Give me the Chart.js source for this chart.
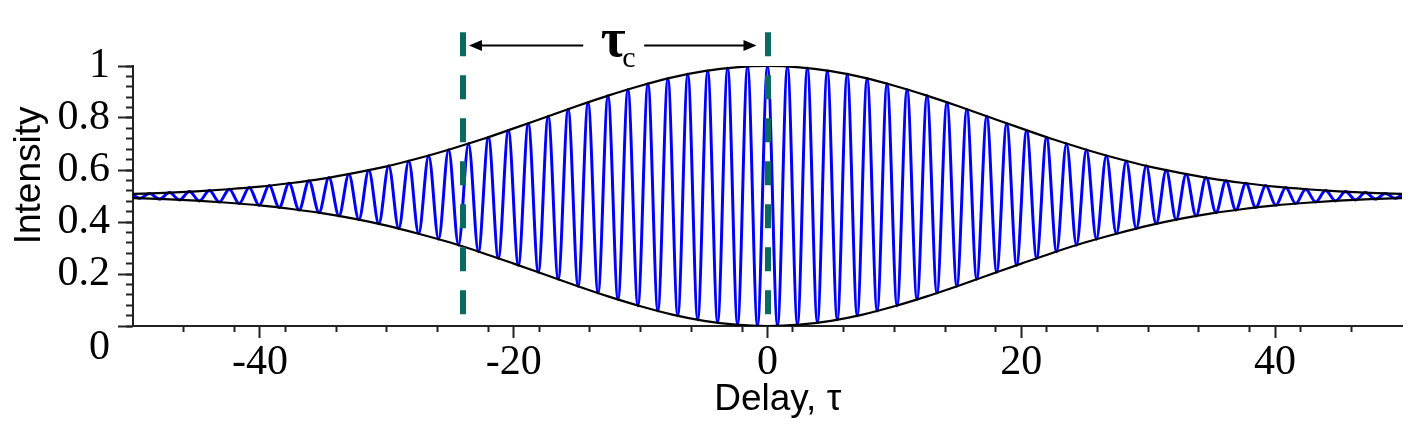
<!DOCTYPE html>
<html>
<head>
<meta charset="utf-8">
<script src="https://cdn.jsdelivr.net/npm/chart.js@4.4.1/dist/chart.umd.min.js"></script>
<style>
  body { margin: 0; background: #fff; }
  canvas { display: block; }
</style>
</head>
<body>
<canvas id="chart" width="1421" height="447"></canvas>
<script>
// fringe extrema (delay, intensity), plus the two end points
const fringeX = [
  -50, -49.48, -48.69, -47.91, -47.12, -46.34, -45.55, -44.77, -43.98, -43.20, -42.41,
  -41.63, -40.84, -40.06, -39.27, -38.48, -37.70, -36.91, -36.13, -35.34, -34.56,
  -33.77, -32.99, -32.20, -31.42, -30.63, -29.85, -29.06, -28.27, -27.49, -26.70,
  -25.92, -25.13, -24.35, -23.56, -22.78, -21.99, -21.21, -20.42, -19.63, -18.85,
  -18.06, -17.28, -16.49, -15.71, -14.92, -14.14, -13.35, -12.57, -11.78, -11.00,
  -10.21, -9.42, -8.64, -7.85, -7.07, -6.28, -5.50, -4.71, -3.93, -3.14,
  -2.36, -1.57, -0.79, 0,
  0.79, 1.57, 2.36, 3.14, 3.93, 4.71, 5.50, 6.28, 7.07, 7.85,
  8.64, 9.42, 10.21, 11.00, 11.78, 12.57, 13.35, 14.14, 14.92, 15.71,
  16.49, 17.28, 18.06, 18.85, 19.63, 20.42, 21.21, 21.99, 22.78, 23.56,
  24.35, 25.13, 25.92, 26.70, 27.49, 28.27, 29.06, 29.85, 30.63, 31.42,
  32.20, 32.99, 33.77, 34.56, 35.34, 36.13, 36.91, 37.70, 38.48, 39.27,
  40.06, 40.84, 41.63, 42.41, 43.20, 43.98, 44.77, 45.55, 46.34, 47.12,
  47.91, 48.69, 49.48, 50
];
const fringeY = [
  0.504, 0.491, 0.510, 0.488, 0.513, 0.485, 0.517, 0.481, 0.521, 0.477, 0.526,
  0.471, 0.533, 0.464, 0.540, 0.456, 0.549, 0.446, 0.559, 0.436, 0.571,
  0.423, 0.584, 0.409, 0.599, 0.393, 0.616, 0.375, 0.635, 0.355, 0.655,
  0.334, 0.678, 0.311, 0.701, 0.286, 0.726, 0.261, 0.752, 0.234, 0.779,
  0.207, 0.807, 0.180, 0.834, 0.153, 0.860, 0.127, 0.886, 0.102, 0.910,
  0.078, 0.932, 0.058, 0.952, 0.039, 0.969, 0.024, 0.982, 0.013, 0.992,
  0.005, 0.998, 0.001, 1.000,
  0.001, 0.998, 0.005, 0.992, 0.013, 0.982, 0.024, 0.969, 0.039, 0.952,
  0.058, 0.932, 0.078, 0.910, 0.102, 0.886, 0.127, 0.860, 0.153, 0.834,
  0.180, 0.807, 0.207, 0.779, 0.234, 0.752, 0.261, 0.726, 0.286, 0.701,
  0.311, 0.678, 0.334, 0.655, 0.355, 0.635, 0.375, 0.616, 0.393, 0.599,
  0.409, 0.584, 0.423, 0.571, 0.436, 0.559, 0.446, 0.549, 0.456, 0.540,
  0.464, 0.533, 0.471, 0.526, 0.477, 0.521, 0.481, 0.517, 0.485, 0.513,
  0.488, 0.510, 0.491, 0.504
];

// envelope (black curves)
const envX = [
  -50, -47.5, -45, -42.5, -40, -37.5, -35, -32.5, -30, -27.5, -25, -22.5, -20, -17.5, -15, -12.5, -10, -7.5, -5, -2.5,
  0, 2.5, 5, 7.5, 10, 12.5, 15, 17.5, 20, 22.5, 25, 27.5, 30, 32.5, 35, 37.5, 40, 42.5, 45, 47.5, 50
];
const envUpper = [
  0.508, 0.512, 0.518, 0.526, 0.536, 0.550, 0.567, 0.589, 0.614, 0.645, 0.680, 0.718, 0.760, 0.803, 0.846, 0.887, 0.924, 0.956, 0.980, 0.995,
  1.000, 0.995, 0.980, 0.956, 0.924, 0.887, 0.846, 0.803, 0.760, 0.718, 0.680, 0.645, 0.614, 0.589, 0.567, 0.550, 0.536, 0.526, 0.518, 0.512, 0.508
];
const envLower = [
  0.492, 0.488, 0.482, 0.474, 0.464, 0.450, 0.433, 0.412, 0.386, 0.355, 0.321, 0.282, 0.240, 0.197, 0.154, 0.113, 0.076, 0.044, 0.020, 0.005,
  0.000, 0.005, 0.020, 0.044, 0.076, 0.113, 0.154, 0.197, 0.240, 0.282, 0.321, 0.355, 0.386, 0.412, 0.433, 0.450, 0.464, 0.474, 0.482, 0.488, 0.492
];

// axes
const xMajorTicks = [-40, -20, 0, 20, 40];
const yTickLabels = ['0', '0.2', '0.4', '0.6', '0.8', '1'];

// coherence-time markers
const markerX = [-24, 0];
const markerTop = 1.13;
const arrowY = 1.081;
const markerLabel = 'τ';
const markerSub = 'c';

function pts(xs, ys) {
  return xs.map((v, i) => ({ x: v, y: ys[i] }));
}

const annotations = {
  id: 'annotations',
  afterDatasetsDraw(chart) {
    const { ctx, scales: { x, y } } = chart;
    const top = y.getPixelForValue(markerTop);
    const bottom = y.getPixelForValue(0);
    ctx.save();

    // dashed verticals
    ctx.strokeStyle = '#0a6961';
    ctx.lineWidth = 6;
    ctx.setLineDash([24, 19]);
    markerX.forEach(v => {
      const px = Math.round(x.getPixelForValue(v));
      ctx.beginPath();
      ctx.moveTo(px, top);
      ctx.lineTo(px, bottom);
      ctx.stroke();
    });
    ctx.setLineDash([]);

    // double arrow with label gap
    const xl = x.getPixelForValue(markerX[0]) + 6;
    const xr = x.getPixelForValue(markerX[1]) - 11;
    const ay = Math.round(y.getPixelForValue(arrowY)) + 0.5;
    const mid = (x.getPixelForValue(markerX[0]) + x.getPixelForValue(markerX[1])) / 2;
    ctx.strokeStyle = '#000';
    ctx.fillStyle = '#000';
    ctx.lineWidth = 2;
    ctx.beginPath();
    ctx.moveTo(xl + 10, ay); ctx.lineTo(mid - 32, ay);
    ctx.moveTo(mid + 29, ay); ctx.lineTo(xr - 10, ay);
    ctx.stroke();
    ctx.beginPath();
    ctx.moveTo(xl, ay); ctx.lineTo(xl + 13, ay - 5.5); ctx.lineTo(xl + 13, ay + 5.5); ctx.closePath();
    ctx.moveTo(xr, ay); ctx.lineTo(xr - 13, ay - 5.5); ctx.lineTo(xr - 13, ay + 5.5); ctx.closePath();
    ctx.fill();

    ctx.textBaseline = 'alphabetic';
    ctx.textAlign = 'center';
    ctx.font = 'bold 54px "Liberation Serif"';
    ctx.fillText(markerLabel, mid - 2, ay + 10);
    ctx.textAlign = 'left';
    ctx.font = '30px "Liberation Serif"';
    ctx.fillText(markerSub, mid + 7, ay + 21);
    ctx.restore();
  }
};

const tickFont = { family: '"Liberation Serif", "Times New Roman", serif', size: 42, lineHeight: 1.05 };
const titleFont = { family: '"Liberation Sans", Arial, sans-serif', size: 37 };

new Chart(document.getElementById('chart'), {
  type: 'line',
  data: {
    datasets: [
      {
        data: pts(envX, envUpper),
        borderColor: '#000', borderWidth: 2.2, pointRadius: 0,
        cubicInterpolationMode: 'monotone'
      },
      {
        data: pts(envX, envLower),
        borderColor: '#000', borderWidth: 2.2, pointRadius: 0,
        cubicInterpolationMode: 'monotone'
      },
      {
        data: pts(fringeX, fringeY),
        borderColor: '#0000ff', borderWidth: 3, pointRadius: 0,
        cubicInterpolationMode: 'monotone'
      }
    ]
  },
  options: {
    responsive: false,
    animation: false,
    events: [],
    layout: { padding: { left: 0, right: 19, top: 66, bottom: 0 } },
    plugins: { legend: { display: false }, tooltip: { enabled: false } },
    scales: {
      x: {
        type: 'linear', min: -50, max: 50, weight: 1,
        afterBuildTicks: s => { s.ticks = xMajorTicks.map(v => ({ value: v })); },
        afterFit: s => { s.height = 121; },
        grid: { drawOnChartArea: false, tickLength: 12, tickWidth: 2, tickColor: '#222' },
        border: { display: true, color: '#222', width: 2 },
        ticks: {
          autoSkip: false, maxRotation: 0, padding: 3, color: '#000', font: tickFont,
          callback: v => String(v)
        },
        title: {
          display: true, text: '  Delay, τ', color: '#000', font: titleFont,
          padding: { top: 0, bottom: 25 }
        }
      },
      xMinor: {
        type: 'linear', position: 'bottom', min: -50, max: 50, weight: 0,
        afterBuildTicks: s => { s.ticks = s.ticks.filter(t => Math.abs(t.value) < 50); },
        afterFit: s => { s.height = 0; },
        grid: { drawOnChartArea: false, tickLength: 6, tickWidth: 2, tickColor: '#222' },
        border: { display: false },
        ticks: { display: false, autoSkip: false, stepSize: 4 }
      },
      y: {
        type: 'linear', min: 0, max: 1, weight: 1,
        afterFit: s => { s.width = 133; },
        grid: { drawOnChartArea: false, tickLength: 15, tickWidth: 2, tickColor: '#222' },
        border: { display: true, color: '#222', width: 2 },
        ticks: {
          stepSize: 0.2, autoSkip: false, padding: 8, color: '#000', font: tickFont,
          callback: (v, i) => (i === 0 ? ['', yTickLabels[0]] : yTickLabels[i])
        },
        title: {
          display: true, text: '    Intensity', color: '#000', font: titleFont,
          padding: { top: 8, bottom: 0 }
        }
      },
      yMinor: {
        type: 'linear', position: 'left', min: 0, max: 1, weight: 0,
        afterFit: s => { s.width = 0; },
        grid: { drawOnChartArea: false, tickLength: 7, tickWidth: 2, tickColor: '#222' },
        border: { display: false },
        ticks: { display: false, autoSkip: false, stepSize: 0.04 }
      }
    }
  },
  plugins: [annotations]
});
</script>
</body>
</html>
